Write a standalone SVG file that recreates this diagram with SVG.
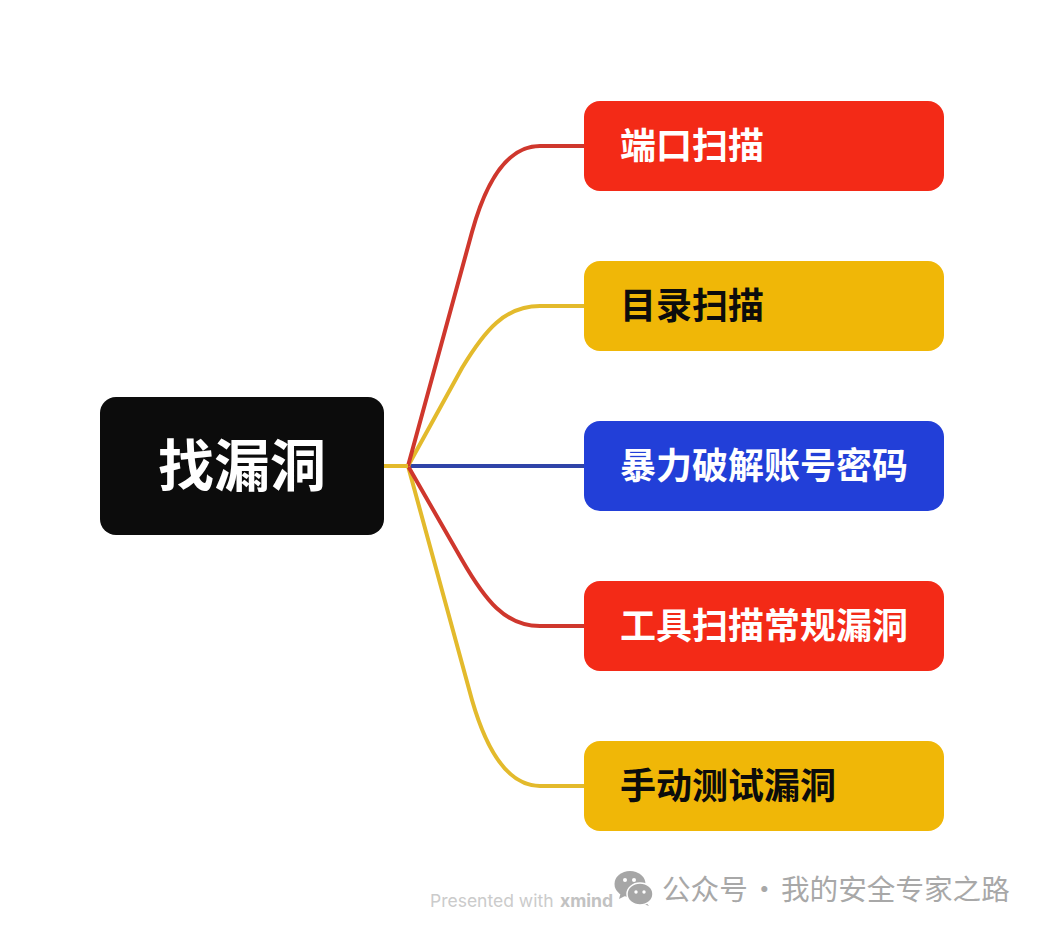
<svg xmlns="http://www.w3.org/2000/svg" width="1044" height="932" viewBox="0 0 1044 932">
<style>
.t{font-family:"Noto Sans CJK SC","Liberation Sans",sans-serif;font-weight:700;font-size:36px}
.w{fill:#fff}.k{fill:#0c0c0c}
.c{fill:none;stroke-width:4;stroke-linecap:butt}
.r{stroke:#cf372d}.y{stroke:#e3ba2c}.b{stroke:#2f44a8}
.wm{font-family:"Noto Sans CJK SC",sans-serif;fill:#a8a8a8;font-size:28.6px}
.bub{fill:#a6a6a6}
</style>
<rect width="1044" height="932" fill="#fff"/>
<g id="connectors">
<path class="c b" d="M408 466H584"/>
<path class="c y" d="M408 466L472 700C485 745 505 786 540 786H584"/>
<path class="c r" d="M408 466L462 560C485 600 505 626 540 626H584"/>
<path class="c y" d="M408 466L462 368C485 330 505 306 540 306H584"/>
<path class="c r" d="M408 466L472 232C485 185 505 146 540 146H584"/>
<path class="c y" d="M384 466H408"/>
</g>
<g id="root"><rect x="100" y="397" width="284" height="138" rx="16" fill="#0c0c0c"/><text class="t w" x="242" y="486" text-anchor="middle" style="font-size:56px">找漏洞</text></g>
<g id="n1"><rect x="584" y="101" width="360" height="90" rx="16" fill="#f32a17"/><text class="t w" x="620" y="159">端口扫描</text></g>
<g id="n2"><rect x="584" y="261" width="360" height="90" rx="16" fill="#f0b707"/><text class="t k" x="620" y="319">目录扫描</text></g>
<g id="n3"><rect x="584" y="421" width="360" height="90" rx="16" fill="#223fd8"/><text class="t w" x="620" y="479">暴力破解账号密码</text></g>
<g id="n4"><rect x="584" y="581" width="360" height="90" rx="16" fill="#f32a17"/><text class="t w" x="620" y="639">工具扫描常规漏洞</text></g>
<g id="n5"><rect x="584" y="741" width="360" height="90" rx="16" fill="#f0b707"/><text class="t k" x="620" y="799">手动测试漏洞</text></g>
<g id="watermark">
<text x="430" y="907" font-family="Inter,'Liberation Sans',sans-serif" font-size="17.5" fill="#cbcbcb">Presented with</text>
<text x="560" y="907" font-family="Inter,'Liberation Sans',sans-serif" font-size="17.6" font-weight="700" fill="#c2c2c2">xmind</text>
<path class="bub" d="M621 892L619 899L627 895Z"/>
<ellipse class="bub" cx="630" cy="884" rx="15.5" ry="13"/>
<path class="bub" d="M645 901L649 906L641 903Z"/>
<ellipse class="bub" cx="640" cy="894" rx="13" ry="11" stroke="#fff" stroke-width="1.5"/>
<circle cx="625" cy="880" r="2" fill="#fff"/><circle cx="634" cy="880" r="2" fill="#fff"/>
<circle cx="636" cy="892" r="1.7" fill="#fff"/><circle cx="644" cy="892" r="1.7" fill="#fff"/>
<text class="wm" x="662" y="900">公众号</text>
<text class="wm" x="750" y="900">·</text>
<text class="wm" x="781" y="900">我的安全专家之路</text>
</g>
</svg>
